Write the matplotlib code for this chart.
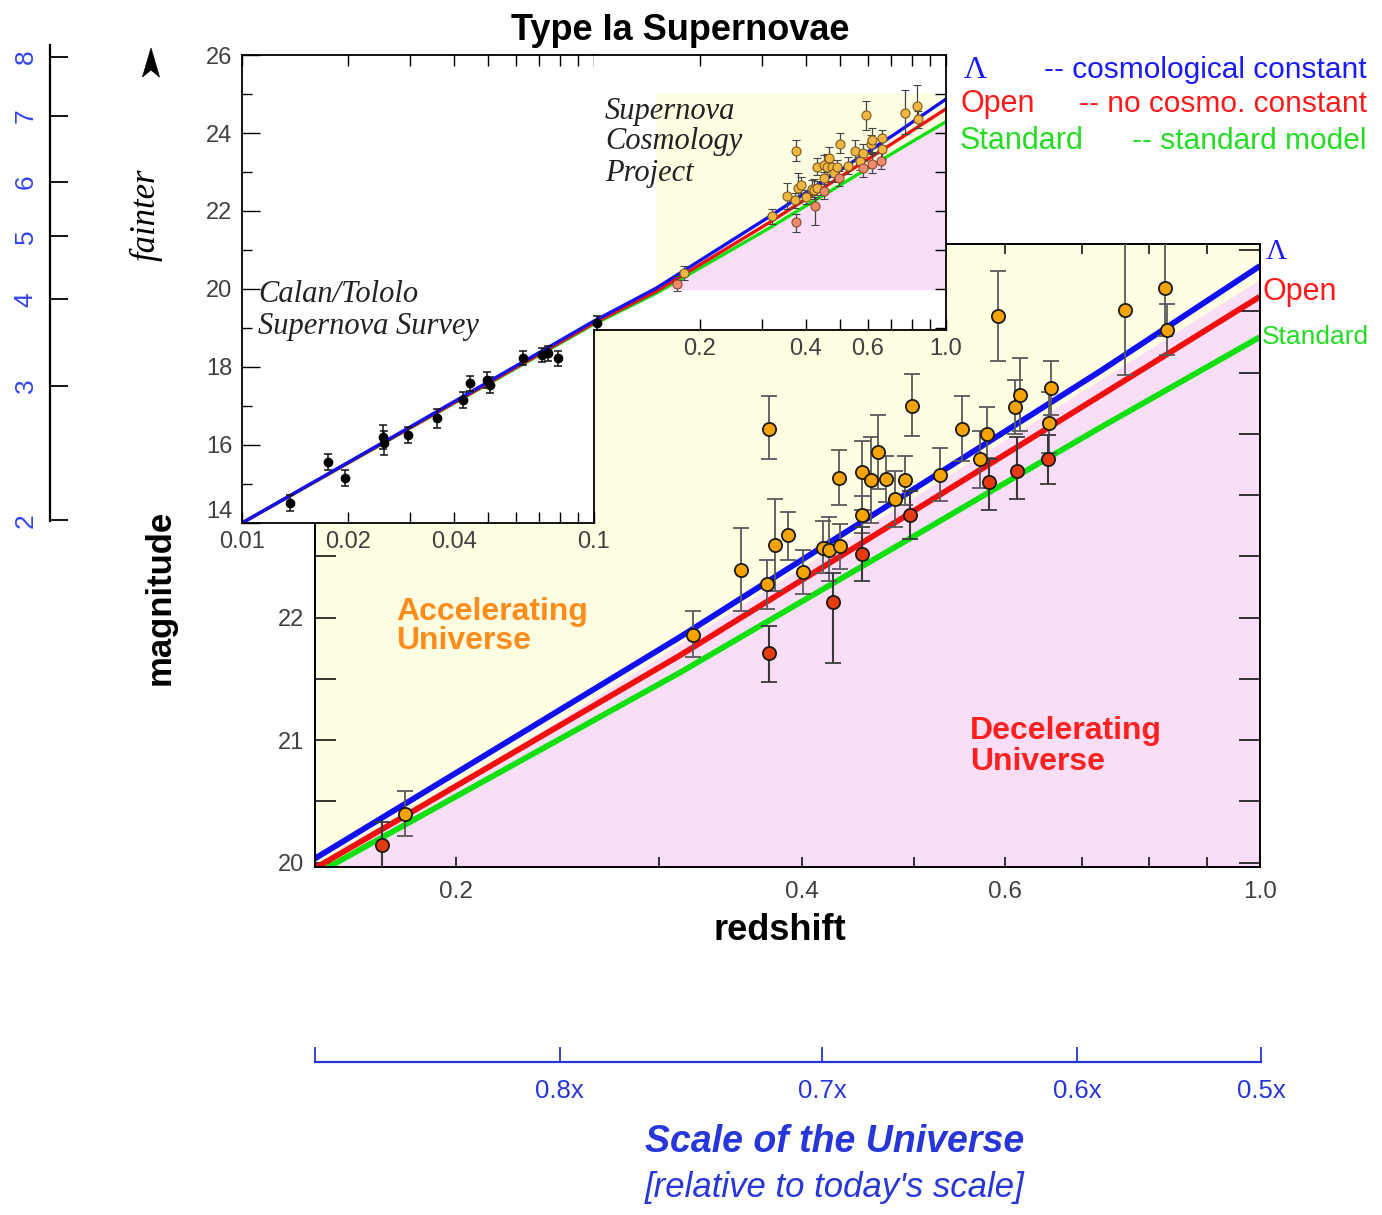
import numpy as np
import matplotlib
matplotlib.use("Agg")
import matplotlib.pyplot as plt
from matplotlib.ticker import FixedLocator, NullFormatter, FixedFormatter
from matplotlib.patches import Rectangle, Polygon

# ---------------------------------------------------------------- data
# model curves: redshift vs. apparent magnitude
model_z = [0.01, 0.03, 0.1, 0.15, 0.313, 0.726, 1.0]
lambda_mag = [14.0, 16.46, 19.18, 20.02, 21.84, 24.01, 24.87]
open_mag = [14.0, 16.44, 19.13, 19.94, 21.69, 23.81, 24.62]
standard_mag = [14.0, 16.43, 19.10, 19.89, 21.55, 23.55, 24.29]

# accelerating / decelerating divide in the zoomed panel
divide_z = [0.15, 1.0]
divide_mag = [19.90, 24.76]

# Supernova Cosmology Project (high redshift)
scp_z = [0.1805, 0.3211, 0.3743, 0.3541, 0.3728, 0.3787, 0.3884, 0.4003,
         0.4167, 0.4219, 0.4312, 0.4306, 0.4504, 0.4586, 0.4657, 0.4729,
         0.4504, 0.4816, 0.4912, 0.4983, 0.5268, 0.5502, 0.5708, 0.5793,
         0.5921, 0.6123, 0.6182, 0.6577, 0.6559, 0.7633, 0.8266, 0.8306]
scp_mag = [20.40, 21.86, 23.54, 22.39, 22.27, 22.59, 22.67, 22.37,
           22.57, 22.55, 22.58, 23.14, 23.19, 23.12, 23.35, 23.13,
           22.84, 22.97, 23.12, 23.73, 23.16, 23.54, 23.29, 23.50,
           24.46, 23.72, 23.82, 23.87, 23.59, 24.51, 24.69, 24.35]
scp_err_lo = [0.18, 0.18, 0.25, 0.34, 0.20, 0.37, 0.20, 0.18,
              0.21, 0.25, 0.18, 0.22, 0.31, 0.35, 0.30, 0.19,
              0.15, 0.23, 0.20, 0.25, 0.21, 0.26, 0.23, 0.20,
              0.37, 0.22, 0.30, 0.22, 0.25, 0.53, 0.39, 0.21]
scp_err_hi = [0.18, 0.19, 0.27, 0.34, 0.20, 0.38, 0.19, 0.18,
              0.22, 0.27, 0.18, 0.23, 0.25, 0.35, 0.30, 0.19,
              0.15, 0.23, 0.20, 0.26, 0.22, 0.27, 0.23, 0.22,
              0.37, 0.22, 0.30, 0.22, 0.25, 0.60, 0.55, 0.21]

# second set of high-redshift points (red)
scp2_z = [0.1726, 0.3743, 0.4255, 0.4504, 0.4962, 0.5815, 0.6143, 0.6546]
scp2_mag = [20.14, 21.71, 22.13, 22.52, 22.84, 23.11, 23.20, 23.29]
scp2_err_lo = [0.20, 0.24, 0.50, 0.22, 0.20, 0.23, 0.23, 0.20]
scp2_err_hi = [0.19, 0.22, 0.23, 0.22, 0.19, 0.18, 0.27, 0.20]

# Calan/Tololo Supernova Survey (low redshift)
ct_z = [0.01369, 0.01758, 0.01962, 0.02520, 0.02531, 0.02968, 0.03573,
        0.04253, 0.04443, 0.04956, 0.05063, 0.06297, 0.07101, 0.07418,
        0.07914, 0.1018]
ct_mag = [14.51, 15.57, 15.15, 16.21, 16.05, 16.26, 16.68, 17.15, 17.58,
          17.67, 17.54, 18.22, 18.31, 18.35, 18.22, 19.12]
ct_err = [0.20, 0.20, 0.20, 0.30, 0.30, 0.20, 0.25, 0.20, 0.20, 0.20,
          0.20, 0.18, 0.18, 0.20, 0.20, 0.20]

# tick labels
main_xticks = [0.2, 0.4, 0.6, 1.0]
main_xlabels = ["0.2", "0.4", "0.6", "1.0"]
inset_left_xticks = [0.01, 0.02, 0.04, 0.1]
inset_left_xlabels = ["0.01", "0.02", "0.04", "0.1"]
scale_ticks_z = [0.1509, 0.246, 0.416, 0.692, 1.0]
scale_labels = ["", "0.8x", "0.7x", "0.6x", "0.5x"]
age_labels = ["2", "3", "4", "5", "6", "7", "8"]
age_ticks_mag = [14.06, 17.51, 19.73, 21.35, 22.74, 24.45, 25.96]

# ---------------------------------------------------------------- style
W, H = 1382, 1215
YELLOW = "#fefee2"
PINK = "#fadef6"
C_LAMBDA = "#1010f0"
C_OPEN = "#f01010"
C_STD = "#10e010"
C_ORANGE = "#f5a300"
C_RED = "#e63a10"
C_TXTBLUE = "#1a1aff"
C_SCALE = "#2636d8"
TICKCOL = "#404040"
TICKSIZE = 17
SANS = "Liberation Sans"
SERIF = "Liberation Serif"

plt.rcParams["font.family"] = [SANS, "DejaVu Sans"]

fig = plt.figure(figsize=(W / 100, H / 100), dpi=100)


def px_axes(left, top, right, bottom, **kw):
    return fig.add_axes([left / W, 1 - bottom / H, (right - left) / W,
                         (bottom - top) / H], **kw)


def ftext(x, y, s, **kw):
    kw.setdefault("zorder", 10)
    return fig.text(x / W, 1 - y / H, s, **kw)


# ---------------------------------------------------------------- main panel
ax = px_axes(315, 244, 1260, 866.7, zorder=1)
ax.set_facecolor(YELLOW)
ax.set_xscale("log")
ax.set_xlim(0.1508, 1.0)
ax.set_ylim(19.966, 25.049)

ax.fill_between(divide_z, 19.0, divide_mag, color=PINK, lw=0, zorder=0.5)

for m, c in [(standard_mag, C_STD), (open_mag, C_OPEN), (lambda_mag, C_LAMBDA)]:
    ax.plot(model_z, m, color=c, lw=4.2, solid_capstyle="butt", zorder=2)

ax.errorbar(scp_z, scp_mag, yerr=[scp_err_lo, scp_err_hi], fmt="o",
            ms=9.5, mfc=C_ORANGE, mec="#1a1a1a", mew=1.3,
            ecolor="#5a5a5a", elinewidth=1.3, capsize=6, capthick=1.4,
            zorder=3)
ax.errorbar(scp2_z, scp2_mag, yerr=[scp2_err_lo, scp2_err_hi], fmt="o",
            ms=9.5, mfc=C_RED, mec="#1a1a1a", mew=1.3,
            ecolor="#3a3a3a", elinewidth=1.5, capsize=6, capthick=1.6,
            zorder=3)

ax.xaxis.set_major_locator(FixedLocator(main_xticks))
ax.xaxis.set_major_formatter(FixedFormatter(main_xlabels))
ax.xaxis.set_minor_locator(FixedLocator([0.3, 0.5, 0.7, 0.8, 0.9]))
ax.xaxis.set_minor_formatter(NullFormatter())
ax.set_yticks([20, 21, 22, 23, 24, 25])
ax.set_yticks([20.5, 21.5, 22.5, 23.5, 24.5], minor=True)
ax.tick_params(axis="x", which="both", direction="in", top=True, length=7,
               width=1.1, pad=10, labelsize=TICKSIZE + 0.5, labelcolor=TICKCOL)
ax.tick_params(axis="y", which="both", direction="in", right=True,
               length=15, width=1.1, pad=8, labelsize=TICKSIZE,
               labelcolor=TICKCOL)
for sp in ax.spines.values():
    sp.set_linewidth(1.4)

# ---------------------------------------------------------------- inset (two parts)
axL = px_axes(242, 55, 594, 523, zorder=2)
axR = px_axes(594, 55, 946, 330, zorder=2)
for a in (axL, axR):
    a.set_facecolor("white")
    a.set_xscale("log")
    for sp in a.spines.values():
        sp.set_linewidth(1.3)
axL.set_xlim(0.01, 0.1)
axL.set_ylim(14, 26)
axR.set_xlim(0.1, 1.0)
axR.set_ylim(18.95, 26)

# shaded window of the zoomed panel
box = Rectangle((0.15, 20), 0.85, 5, facecolor=YELLOW, edgecolor="none",
                zorder=0.4)
axR.add_patch(box)
pink = axR.fill_between(model_z, 15, standard_mag, color=PINK, lw=0,
                        zorder=0.5)
pink.set_clip_path(box)

for a in (axL, axR):
    for m, c in [(standard_mag, C_STD), (open_mag, C_OPEN),
                 (lambda_mag, C_LAMBDA)]:
        a.plot(model_z, m, color=c, lw=2.4, zorder=2)
    a.errorbar(ct_z, ct_mag, yerr=ct_err, fmt="o", ms=6, mfc="black",
               mec="black", ecolor="#111111", elinewidth=1.1, capsize=3,
               capthick=1.1, zorder=3)
    a.errorbar(scp_z, scp_mag, yerr=[scp_err_lo, scp_err_hi], fmt="o",
               ms=6.5, mfc="#f2b640", mec="#7a5a20", mew=0.8,
               ecolor="#444444", elinewidth=0.9, capsize=3, capthick=0.9,
               zorder=3)
    a.errorbar(scp2_z, scp2_mag, yerr=[scp2_err_lo, scp2_err_hi], fmt="o",
               ms=6.5, mfc="#f08a6a", mec="#8a4a30", mew=0.8,
               ecolor="#444444", elinewidth=0.9, capsize=3, capthick=0.9,
               zorder=3)

# left part of inset
axL.spines["right"].set_bounds(14, 18.95)
axL.xaxis.set_major_locator(FixedLocator(inset_left_xticks))
axL.xaxis.set_major_formatter(FixedFormatter(inset_left_xlabels))
axL.xaxis.set_minor_locator(FixedLocator([0.03, 0.05, 0.06, 0.07, 0.08, 0.09]))
axL.xaxis.set_minor_formatter(NullFormatter())
axL.set_yticks([14, 16, 18, 20, 22, 24, 26])
axL.set_yticks([15, 17, 19, 21, 23, 25], minor=True)
axL.tick_params(axis="x", which="both", direction="in", top=True,
                bottom=True, length=8, width=1.0, pad=6, labelsize=TICKSIZE,
                labelcolor=TICKCOL)
axL.tick_params(axis="y", which="major", direction="in", right=False,
                length=13, width=1.0, pad=7, labelsize=TICKSIZE,
                labelcolor=TICKCOL)
axL.tick_params(axis="y", which="minor", direction="in", right=False,
                length=7, width=1.0)
# lift the lowest magnitude label clear of the redshift labels below it
axL.get_yticklabels()[0].set_va("bottom")

# right part of inset
axR.spines["left"].set_visible(False)
axR.xaxis.set_major_locator(FixedLocator(main_xticks))
axR.xaxis.set_major_formatter(FixedFormatter(main_xlabels))
axR.xaxis.set_minor_locator(FixedLocator([0.3, 0.5, 0.7, 0.8, 0.9]))
axR.xaxis.set_minor_formatter(NullFormatter())
axR.set_yticks([19, 20, 21, 22, 23, 24, 25])
axR.tick_params(axis="x", which="both", direction="in", top=True,
                length=8, width=1.0, pad=6, labelsize=TICKSIZE,
                labelcolor=TICKCOL)
axR.tick_params(axis="y", which="both", direction="in", left=False,
                labelleft=False, right=True, length=8, width=1.0)

# ---------------------------------------------------------------- far-left scale
axS = px_axes(50, 45, 60, 520.7, zorder=1)
axS.set_facecolor("none")
axS.set_ylim(14.05, 26.26)
axS.set_xticks([])
for k in ("top", "right", "bottom"):
    axS.spines[k].set_visible(False)
axS.spines["left"].set_linewidth(1.6)
axS.yaxis.set_major_locator(FixedLocator(age_ticks_mag))
axS.yaxis.set_major_formatter(FixedFormatter(age_labels))
axS.tick_params(axis="y", direction="in", length=13, width=1.3,
                pad=9, labelsize=19, labelcolor="#3344ee", labelrotation=90)
for lab in axS.get_yticklabels():
    lab.set_va("center")

# ---------------------------------------------------------------- scale of the universe axis
axB = px_axes(315, 1055, 1261, 1062, zorder=1)
axB.set_facecolor("none")
axB.set_xscale("log")
axB.set_xlim(0.1508, 1.0)
axB.set_yticks([])
for k in ("top", "right", "left"):
    axB.spines[k].set_visible(False)
axB.spines["bottom"].set_color(C_SCALE)
axB.spines["bottom"].set_linewidth(1.6)
axB.xaxis.set_major_locator(FixedLocator(scale_ticks_z))
axB.xaxis.set_major_formatter(FixedFormatter(scale_labels))
axB.xaxis.set_minor_locator(FixedLocator([]))
axB.tick_params(axis="x", direction="in", length=11, width=1.3,
                color=C_SCALE, pad=12, labelsize=18.5, labelcolor=C_SCALE)

# ---------------------------------------------------------------- text
ftext(680, 30, "Type Ia Supernovae", ha="center", va="center",
      fontsize=26, fontweight="bold")
ftext(160, 597, "magnitude", rotation=90, ha="center", va="center",
      fontsize=25, fontweight="bold")
ftext(780, 930, "redshift", ha="center", va="center", fontsize=26,
      fontweight="bold")
ftext(146, 215, "fainter", rotation=90, ha="center", va="center",
      fontsize=25, family=SERIF, style="italic")
fig.patches.append(Polygon(
    [(151 / W, 1 - 48 / H), (159.5 / W, 1 - 77 / H), (151 / W, 1 - 70 / H),
     (142.5 / W, 1 - 77 / H)], closed=True, transform=fig.transFigure,
    facecolor="black", edgecolor="black", lw=0.5))

# legend block
ftext(964, 70, "\u039b", ha="left", va="center", fontsize=23, family=SERIF,
      color=C_TXTBLUE)
ftext(1367, 70, "-- cosmological constant", ha="right", va="center",
      fontsize=21.5, color=C_TXTBLUE)
ftext(960, 104, "Open", ha="left", va="center", fontsize=22, color="#ff1a1a")
ftext(1367, 104, "-- no cosmo. constant", ha="right", va="center",
      fontsize=21.5, color="#ff1a1a")
ftext(960, 141, "Standard", ha="left", va="center", fontsize=22,
      color="#22dd22")
ftext(1367, 141, "-- standard model", ha="right", va="center", fontsize=21.5,
      color="#22dd22")

# curve labels at the right edge
ftext(1266, 252, "\u039b", ha="left", va="center", fontsize=21, family=SERIF,
      color=C_TXTBLUE)
ftext(1263, 292, "Open", ha="left", va="center", fontsize=22,
      color="#ff1a1a")
ftext(1262, 337, "Standard", ha="left", va="center", fontsize=19,
      color="#22dd22")

# region labels
for y, s in [(612, "Accelerating"), (641, "Universe")]:
    ftext(396, y, s, ha="left", va="center", fontsize=23, fontweight="bold",
          color="#ff8c1a")
for y, s in [(731, "Decelerating"), (762, "Universe")]:
    ftext(970, y, s, ha="left", va="center", fontsize=23, fontweight="bold",
          color="#ff2020")

# survey labels in the inset
for y, s in [(111, "Supernova"), (142, "Cosmology"), (173, "Project")]:
    ftext(605, y, s, ha="left", va="center", fontsize=22, family=SERIF,
          style="italic", color="#222222")
for y, s in [(295, "Calan/Tololo"), (326, "Supernova Survey")]:
    ftext(258, y, s, ha="left", va="center", fontsize=22, family=SERIF,
          style="italic", color="#222222")

# scale axis caption
ftext(835, 1142, "Scale of the Universe", ha="center", va="center",
      fontsize=27, fontweight="bold", style="italic", color=C_SCALE)
ftext(835, 1187, "[relative to today's scale]", ha="center", va="center",
      fontsize=25, style="italic", color=C_SCALE)

fig.savefig("out.png", dpi=100, facecolor="white")
